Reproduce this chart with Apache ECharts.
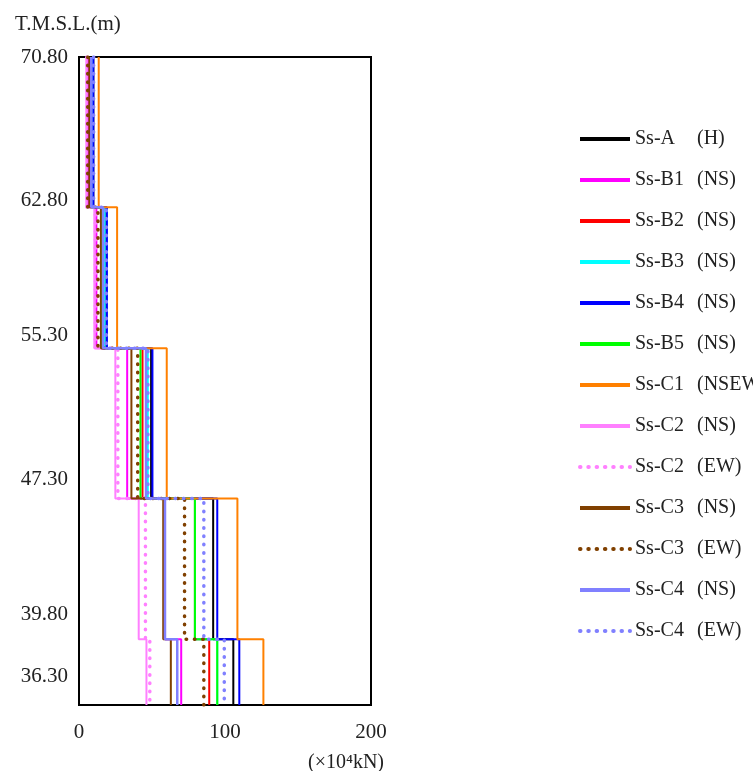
<!DOCTYPE html>
<html>
<head>
<meta charset="utf-8">
<script src="https://cdn.jsdelivr.net/npm/echarts@6/dist/echarts.min.js"></script>
<style>html,body{margin:0;padding:0;background:#fff;}#c{width:753px;height:771px;}</style>
</head>
<body>
<div id="c"></div>
<script>
// Elevation levels (T.M.S.L., m), top to bottom
const levels = [70.80, 62.80, 55.30, 47.30, 39.80, 36.30];
const yTickLabels = [70.80, 62.80, 55.30, 47.30, 39.80, 36.30];
const xTicks = [0, 100, 200];

// Series names / directions
const codes = ['Ss-A','Ss-B1','Ss-B2','Ss-B3','Ss-B4','Ss-B5','Ss-C1','Ss-C2','Ss-C2','Ss-C3','Ss-C3','Ss-C4','Ss-C4'];
const dirs  = ['(H)','(NS)','(NS)','(NS)','(NS)','(NS)','(NSEW)','(NS)','(EW)','(NS)','(EW)','(NS)','(EW)'];

// Shear force per element (x10^4 kN), top element to bottom element
const ssA    = [9.8, 18.7, 49.4, 91.9, 105.7];
const ssB1   = [6.4, 11.9, 33.0, 58.9, 70.0];
const ssB2   = [7.8, 15.3, 43.5, 79.4, 89.2];
const ssB3   = [9.5, 17.6, 47.1, 79.4, 94.7];
const ssB4   = [9.8, 19.1, 50.3, 94.7, 109.8];
const ssB5   = [8.1, 15.3, 42.1, 79.4, 94.7];
const ssC1   = [13.5, 26.1, 60.1, 108.5, 126.3];
const ssC2NS = [5.0, 10.5, 24.9, 40.9, 46.2];
const ssC2EW = [5.4, 11.2, 26.6, 45.5, 48.5];
const ssC3NS = [7.1, 15.0, 35.9, 57.7, 62.9];
const ssC3EW = [6.0, 13.0, 40.2, 72.3, 85.5];
const ssC4NS = [8.4, 16.5, 45.9, 58.9, 67.3];
const ssC4EW = [10.0, 18.7, 47.2, 85.5, 99.5];

const allValues = [ssA, ssB1, ssB2, ssB3, ssB4, ssB5, ssC1, ssC2NS, ssC2EW, ssC3NS, ssC3EW, ssC4NS, ssC4EW];
const colors = ['#000000','#FF00FF','#FF0000','#00FFFF','#0000FF','#00FF00','#FF8000','#FF80FF','#FF80FF','#804000','#804000','#8080FF','#8080FF'];
const dotted = [false,false,false,false,false,false,false,false,true,false,true,false,true];

const FONT = "'Liberation Serif', 'DejaVu Serif', serif";

function stepData(vals) {
  const d = [];
  for (let i = 0; i < vals.length; i++) {
    d.push([vals[i], levels[i]]);
    d.push([vals[i], levels[i + 1]]);
  }
  return d;
}

const series = allValues.map((vals, i) => ({
  name: codes[i] + ' ' + dirs[i],
  type: 'line',
  xAxisIndex: 0,
  yAxisIndex: 0,
  symbol: 'none',
  animation: false,
  data: stepData(vals),
  color: colors[i],
  lineStyle: dotted[i]
    ? { color: colors[i], width: 3.5, type: [0.5, 7.8], cap: 'round' }
    : { color: colors[i], width: (i === 11 ? 2.5 : 2) }
}));

const chart = echarts.init(document.getElementById('c'), null, { renderer: 'canvas' });
chart.setOption({
  backgroundColor: '#ffffff',
  animation: false,
  textStyle: { fontFamily: FONT },
  title: [
    { text: 'T.M.S.L.(m)', left: 10, top: 9, textStyle: { fontFamily: FONT, fontSize: 21, fontWeight: 'normal', color: '#222' } },
    { text: '(×10⁴kN)', left: 303, top: 748, textStyle: { fontFamily: FONT, fontSize: 20, fontWeight: 'normal', color: '#222' } }
  ],
  grid: { left: 79, top: 57, right: 382, bottom: 66, show: true, borderColor: '#000', borderWidth: 2, backgroundColor: 'transparent' },
  xAxis: {
    type: 'value', min: 0, max: 200, interval: 100,
    axisLine: { show: false }, axisTick: { show: false }, splitLine: { show: false },
    axisLabel: { fontFamily: FONT, fontSize: 21, color: '#222', margin: 17,
      customValues: xTicks }
  },
  yAxis: [
    {
      type: 'value', min: levels[levels.length - 1], max: levels[0],
      axisLine: { show: false }, axisTick: { show: false }, splitLine: { show: false },
      axisLabel: { show: false }
    },
    {
      type: 'value', position: 'left', min: 34.74, max: 70.80,
      axisLine: { show: false }, axisTick: { show: false }, splitLine: { show: false },
      axisLabel: { fontFamily: FONT, fontSize: 21, color: '#222', margin: 11,
        customValues: yTickLabels,
        formatter: v => v.toFixed(2) }
    }
  ],
  legend: {
    orient: 'vertical', left: 573, top: 124,
    itemWidth: 50, itemHeight: 20, itemGap: 21,
    lineStyle: { width: 4 },
    itemStyle: { opacity: 0 },
    textStyle: {
      fontFamily: FONT, fontSize: 20, color: '#222',
      rich: {
        n: { fontFamily: FONT, fontSize: 20, color: '#222', width: 62 },
        d: { fontFamily: FONT, fontSize: 20, color: '#222' }
      }
    },
    formatter: name => {
      const k = name.indexOf(' ');
      return '{n|' + name.slice(0, k) + '}{d|' + name.slice(k + 1) + '}';
    },
    data: series.map(s => s.name)
  },
  series: series
});
</script>
</body>
</html>
